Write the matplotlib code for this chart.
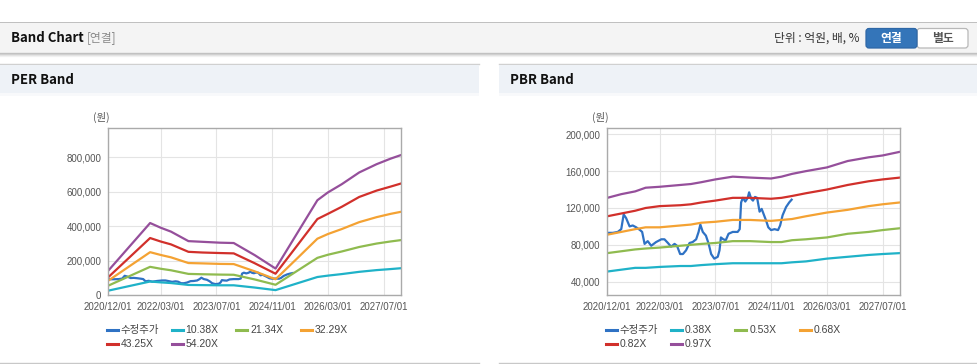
import numpy as np
import matplotlib
matplotlib.use('Agg')
import matplotlib.pyplot as plt
from matplotlib import transforms
from matplotlib.patches import Rectangle, FancyBboxPatch
from matplotlib.lines import Line2D
from matplotlib.ticker import FuncFormatter

plt.rcParams['font.family'] = ['Liberation Sans', 'Noto Sans CJK KR']
KR = ['Noto Sans CJK KR', 'DejaVu Sans']

# x = months counted from 2020/12/01
x_ticks = [0, 15, 31, 47, 63, 79]
x_labels = ['2020/12/01', '2022/03/01', '2023/07/01', '2024/11/01', '2026/03/01', '2027/07/01']

# adjusted share price (천원)
price_month = [0, 1.6, 3, 4, 4.7, 5.4, 6.4, 7.3, 8.3, 9.4, 10.0, 10.7, 11.6, 12.6, 14, 15.5, 16.4,
               17.4, 18.3, 19.3, 20, 20.9, 21.7, 22.6, 23.6, 24.5, 25.5, 26.2, 26.7, 27.4, 28.3,
               29.1, 29.8, 30.7, 31.7, 32.2, 32.6, 33.3, 34, 34.8, 36, 37.4, 38, 38.4, 38.9, 39.6,
               40.3, 40.7, 41.3, 41.8, 42.4, 43, 43.7, 44.3, 44.9, 45.6, 46.2, 47, 48, 49, 49.6,
               50.3, 51.3, 52.2, 52.9]
price = [93, 93, 94, 97, 113, 109, 100, 101, 99, 96, 94, 81, 84, 79, 83, 86, 86,
         82, 78, 81, 79, 70, 70, 74, 82, 83, 86, 94, 102, 94, 90,
         81, 70, 65, 67, 74, 88, 86, 85, 92, 94, 94, 97, 126, 131, 127,
         131, 137, 130, 128, 132, 131, 116, 119, 113, 106, 99, 96, 97, 96, 101,
         112, 121, 126, 129]

# PER band (천원)
per_month = [0, 12, 15, 18, 23, 27, 32, 36, 42, 48, 54, 60, 63, 67, 72, 77, 81, 84]
per_labels = ['10.38X', '21.34X', '32.29X', '43.25X', '54.20X']
per_1038 = [27, 80, 75, 71, 60, 59, 58, 58, 45, 30, 68, 106, 114, 123, 136, 146, 152, 157]
per_2134 = [56, 165, 154, 145, 124, 122, 120, 119, 92, 61, 139, 217, 235, 254, 280, 300, 312, 320]
per_3229 = [85, 250, 234, 220, 187, 185, 182, 181, 139, 93, 210, 328, 355, 384, 424, 453, 472, 484]
per_4325 = [105, 332, 312, 295, 252, 248, 245, 243, 186, 125, 283, 442, 472, 513, 570, 607, 630, 648]
per_5420 = [143, 419, 392, 369, 314, 310, 305, 303, 233, 155, 353, 551, 596, 644, 712, 760, 792, 813]

# PBR band (천원)
pbr_month = [0, 4, 8, 11, 15, 21, 24, 27, 31, 36, 41, 47, 50, 53, 57, 63, 69, 75, 79, 84]
pbr_labels = ['0.38X', '0.53X', '0.68X', '0.82X', '0.97X']
pbr_038 = [51, 53, 55, 55, 56, 57, 57, 58, 59, 60, 60, 60, 60, 61, 62, 65, 67, 69, 70, 71]
pbr_053 = [71, 73, 75, 76, 77, 79, 80, 81, 82, 84, 84, 83, 83, 85, 86, 88, 92, 94, 96, 98]
pbr_068 = [91, 94, 97, 99, 99, 101, 102, 104, 105, 107, 107, 106, 107, 108, 111, 115, 118, 122, 124, 126]
pbr_082 = [111, 114, 117, 120, 122, 123, 124, 126, 128, 131, 131, 130, 131, 133, 136, 140, 145, 149, 151, 153]
pbr_097 = [131, 135, 138, 142, 143, 145, 146, 148, 151, 154, 153, 152, 154, 157, 160, 164, 171, 175, 177, 181]

colors = ['#2f72c4', '#1fb2c8', '#8fbb4f', '#f4a233', '#d1302b', '#954f9b']

W, H = 978, 364
fig = plt.figure(figsize=(W / 100, H / 100), dpi=100)
# pixel coordinates, origin top-left
px = transforms.Affine2D().scale(0.01, -0.01).translate(0, H / 100) + fig.dpi_scale_trans


def rect(x, y, w, h, fc, ec='none', lw=0):
    fig.add_artist(Rectangle((x, y), w, h, transform=px, fc=fc, ec=ec, lw=lw, zorder=-1))


def hline(x0, x1, y, color, lw=1.0):
    fig.add_artist(Line2D([x0, x1], [y, y], transform=px, color=color, lw=lw, zorder=-1))


# header bar
hline(0, W, 22.5, '#b4b4b4', 1.2)
rect(0, 23, W, 30, '#f4f4f4')
hline(0, W, 53, '#c4c4c4', 1.0)
for i, a in enumerate([0.35, 0.2, 0.1]):
    hline(0, W, 54 + i, (0.6, 0.6, 0.6, a), 1.0)
fig.text(11, 38, 'Band Chart', transform=px, family=KR, weight='bold', fontsize=9.5,
         color='#111111', va='center')
fig.text(87, 38, '[연결]', transform=px, family=KR, fontsize=8.5, color='#8a8a8a', va='center')
fig.text(859, 38, '단위 : 억원, 배, %', transform=px, family=KR, fontsize=8.5, color='#333333',
         va='center', ha='right')
fig.add_artist(FancyBboxPatch((917, 28.5), 51, 19.5, boxstyle='round,pad=0,rounding_size=3',
                              transform=px, fc='white', ec='#b8b8b8', lw=0.9))
fig.add_artist(FancyBboxPatch((866, 28.5), 51, 19.5, boxstyle='round,pad=0,rounding_size=3',
                              transform=px, fc='#3475b9', ec='#2e67a6', lw=0.9))
fig.text(891.5, 38.5, '연결', transform=px, family=KR, weight='bold', fontsize=8.5,
         color='white', va='center', ha='center')
fig.text(942.5, 38.5, '별도', transform=px, family=KR, weight='bold', fontsize=8.5,
         color='#555555', va='center', ha='center')

# panels
for x0, x1, title in [(0, 479, 'PER Band'), (499, W, 'PBR Band')]:
    hline(x0, x1, 64, '#d0d0d0', 1.0)
    rect(x0, 64.5, x1 - x0, 28, '#eef2f7')
    rect(x0, 92.5, x1 - x0, 3, '#f8f9fb')
    hline(x0, x1, 362.5, '#c8c8c8', 1.0)
    fig.text(x0 + 11, 80, title, transform=px, family=KR, weight='bold', fontsize=9.5,
             color='#111111', va='center')


def setup_axes(left, ylim, yticks):
    ax = fig.add_axes([left / W, 1 - 295.3 / H, 292.7 / W, 167 / H])
    ax.set_xlim(0, 84)
    ax.set_ylim(*ylim)
    ax.set_xticks(x_ticks)
    ax.set_xticklabels(x_labels)
    ax.set_yticks(yticks)
    ax.yaxis.set_major_formatter(FuncFormatter(lambda v, p: f'{v:,.0f}'))
    ax.tick_params(length=0, labelsize=7, labelcolor='#555555', pad=5)
    ax.grid(True, color='#e4e4e4', lw=0.8)
    ax.set_axisbelow(True)
    for s in ax.spines.values():
        s.set_color('#aaaaaa')
        s.set_linewidth(1.0)
    return ax


def legend(x0, labels):
    cols = [0, 65, 129.5, 194]
    for i, (lab, c) in enumerate(zip(labels, colors)):
        x = x0 + cols[i % 4]
        y = 330 if i < 4 else 344
        fig.add_artist(Line2D([x, x + 11], [y, y], transform=px, color=c, lw=2.2))
        fig.text(x + 14, y, lab, transform=px, fontsize=7.5, color='#444444', va='center')


k = 1000
ax1 = setup_axes(108.3, (0, 968000), np.arange(0, 800001, 200000))
ax1.plot(price_month, np.array(price) * k, color=colors[0], lw=1.6)
for s, c in zip([per_1038, per_2134, per_3229, per_4325, per_5420], colors[1:]):
    ax1.plot(per_month, np.array(s) * k, color=c, lw=1.6)
fig.text(93, 117, '(원)', transform=px, family=KR, fontsize=7.5, color='#555555', va='center')
legend(106.7, ['수정주가'] + per_labels)

ax2 = setup_axes(607.3, (25200, 206500), np.arange(40000, 200001, 40000))
ax2.plot(price_month, np.array(price) * k, color=colors[0], lw=1.6)
for s, c in zip([pbr_038, pbr_053, pbr_068, pbr_082, pbr_097], colors[1:]):
    ax2.plot(pbr_month, np.array(s) * k, color=c, lw=1.6)
fig.text(592, 117, '(원)', transform=px, family=KR, fontsize=7.5, color='#555555', va='center')
legend(605.7, ['수정주가'] + pbr_labels)

fig.savefig('out.png', dpi=100)
